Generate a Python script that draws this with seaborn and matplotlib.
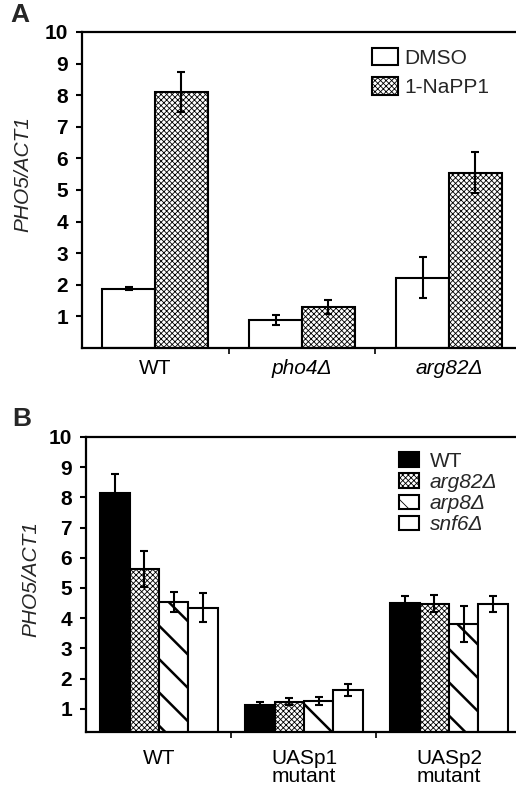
import matplotlib
matplotlib.use("Agg")
import matplotlib.pyplot as plt
import seaborn as sns
import pandas as pd
import numpy as np

# ---------------- data ----------------
strains_a = ["WT", "pho4Δ", "arg82Δ"]
treatments = ["DMSO", "1-NaPP1"]
dmso_vals = [1.88, 0.89, 2.23]
dmso_err = [0.05, 0.16, 0.65]
napp_vals = [8.10, 1.30, 5.55]
napp_err = [0.64, 0.22, 0.64]

promoters = ["WT", "UASp1\nmutant", "UASp2\nmutant"]
genotypes = ["WT", "arg82Δ", "arp8Δ", "snf6Δ"]
wt_vals = [8.15, 1.13, 4.50]
wt_err = [0.63, 0.10, 0.25]
arg82_vals = [5.62, 1.23, 4.48]
arg82_err = [0.60, 0.12, 0.28]
arp8_vals = [4.55, 1.27, 3.81]
arp8_err = [0.33, 0.13, 0.60]
snf6_vals = [4.35, 1.62, 4.46]
snf6_err = [0.48, 0.21, 0.27]

yticks = [1, 2, 3, 4, 5, 6, 7, 8, 9, 10]

# ---------------- style ----------------
sns.set_theme(style="ticks")
plt.rcParams["font.family"] = ["Liberation Sans", "DejaVu Sans"]
plt.rcParams["hatch.linewidth"] = 0.6

fig = plt.figure(figsize=(5.16, 7.91), dpi=100)

W, H = 516.0, 791.0
axA = fig.add_axes([82 / W, 1 - 348 / H, (516 - 82) / W, 316 / H])
axB = fig.add_axes([86 / W, 1 - 732 / H, (516 - 86) / W, 295 / H])

df_a = pd.DataFrame({
    "strain": strains_a * 2,
    "treatment": [treatments[0]] * 3 + [treatments[1]] * 3,
    "value": dmso_vals + napp_vals,
})
errs_a = [dmso_err, napp_err]

df_b = pd.DataFrame({
    "promoter": promoters * 4,
    "genotype": sum([[g] * 3 for g in genotypes], []),
    "value": wt_vals + arg82_vals + arp8_vals + snf6_vals,
})
errs_b = [wt_err, arg82_err, arp8_err, snf6_err]

LW = 1.5
CROSS = "xxxxxx"

sns.barplot(data=df_a, x="strain", y="value", hue="treatment",
            palette=["white", "white"], edgecolor="black", linewidth=LW,
            width=0.72, errorbar=None, legend=False, ax=axA, saturation=1)
hatches_a = [None, CROSS]
for cont, h in zip(axA.containers, hatches_a):
    for p in cont.patches:
        p.set_facecolor("white")
        p.set_edgecolor("black")
        if h:
            p.set_hatch(h)
            if hasattr(p, "set_hatch_linewidth"):
                p.set_hatch_linewidth(0.6)

sns.barplot(data=df_b, x="promoter", y="value", hue="genotype",
            palette=["black", "white", "white", "white"], edgecolor="black",
            linewidth=LW, width=0.81, errorbar=None, legend=False, ax=axB,
            saturation=1)
hatches_b = [None, CROSS, "\\", None]
faces_b = ["black", "white", "white", "white"]
for cont, h, fc in zip(axB.containers, hatches_b, faces_b):
    for p in cont.patches:
        p.set_facecolor(fc)
        p.set_edgecolor("black")
        if h:
            p.set_hatch(h)
            if hasattr(p, "set_hatch_linewidth"):
                p.set_hatch_linewidth(1.8 if h == "\\" else 0.6)


def add_errors(ax, errs):
    for cont, e in zip(ax.containers, errs):
        xs = [p.get_x() + p.get_width() / 2 for p in cont.patches]
        ys = [p.get_height() for p in cont.patches]
        ax.errorbar(xs, ys, yerr=e, fmt="none", ecolor="black",
                    elinewidth=1.5, capsize=3.0, capthick=1.5, zorder=5)


add_errors(axA, errs_a)
add_errors(axB, errs_b)


def style_axes(ax, xlim, ylim, label_xy):
    ax.set_xlim(*xlim)
    ax.set_ylim(*ylim)
    ax.set_yticks(yticks)
    ax.set_yticklabels([str(t) for t in yticks], fontsize=15, fontweight="bold")
    ax.set_xlabel("")
    ax.set_ylabel("PHO5/ACT1", fontsize=15, fontstyle="italic")
    ax.yaxis.set_label_coords(*label_xy)
    for s in ["left", "bottom", "top"]:
        ax.spines[s].set_visible(True)
        ax.spines[s].set_linewidth(1.6)
        ax.spines[s].set_color("black")
    ax.spines["right"].set_visible(False)
    ax.tick_params(axis="y", length=4, width=1.5, pad=6, colors="black")
    ax.tick_params(axis="x", which="major", length=0, colors="black")
    ax.set_xticks([0.5, 1.5], minor=True)
    ax.tick_params(axis="x", which="minor", length=4, width=1.2, color="black")
    ax.set_facecolor("white")


style_axes(axA, (-0.497, 2.456), (0, 10), (-0.115, 0.55))
style_axes(axB, (-0.503, 2.462), (0.23, 10), (-0.105, 0.52))

for lab in axA.get_xticklabels():
    lab.set_fontsize(15)
    if lab.get_text() != "WT":
        lab.set_fontstyle("italic")
axA.tick_params(axis="x", which="major", pad=8)

for lab in axB.get_xticklabels():
    lab.set_fontsize(15)
    lab.set_linespacing(0.95)
axB.tick_params(axis="x", which="major", pad=12)

legA = axA.legend(axA.containers, treatments, loc="upper left",
                  bbox_to_anchor=(372 / W, 1 - 48 / H),
                  bbox_transform=fig.transFigure, frameon=False,
                  fontsize=15, handlelength=1.24, handleheight=0.9,
                  handletextpad=0.33, labelspacing=0.45, borderpad=0,
                  borderaxespad=0)

legB = axB.legend(axB.containers, genotypes, loc="upper left",
                  bbox_to_anchor=(399 / W, 1 - 452 / H),
                  bbox_transform=fig.transFigure, frameon=False,
                  fontsize=15, handlelength=0.95, handleheight=0.71,
                  handletextpad=0.52, labelspacing=0.1, borderpad=0,
                  borderaxespad=0)
for t in legB.get_texts():
    if t.get_text() != "WT":
        t.set_fontstyle("italic")

fig.text(10 / W, 1 - 3 / H, "A", fontsize=19, fontweight="bold",
         ha="left", va="top")
fig.text(12 / W, 1 - 407 / H, "B", fontsize=19, fontweight="bold",
         ha="left", va="top")

fig.savefig("out.png", dpi=100, facecolor="white")
